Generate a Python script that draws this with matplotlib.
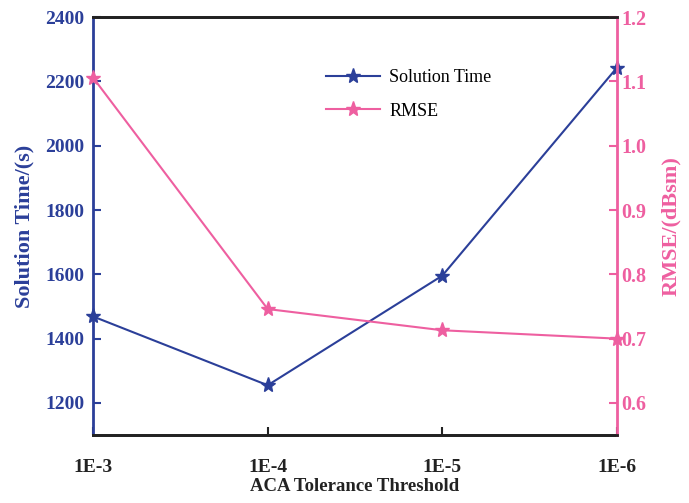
import matplotlib.pyplot as plt

plt.rcParams['font.family'] = ['Liberation Serif', 'DejaVu Serif']

thresholds = ['1E-3', '1E-4', '1E-5', '1E-6']
solution_time = [1469, 1255, 1596, 2243]
rmse = [1.106, 0.746, 0.713, 0.700]

blue = '#2B3F99'
pink = '#EE5FA0'

fig = plt.figure(figsize=(6.89, 5.03), dpi=100)
ax = fig.add_axes([0.135, 0.135, 0.7605, 0.831])
ax2 = ax.twinx()

x = range(len(thresholds))
l1, = ax.plot(x, solution_time, color=blue, marker='*', markersize=11, lw=1.5, label='Solution Time', clip_on=False, zorder=3)
l2, = ax2.plot(x, rmse, color=pink, marker='*', markersize=11, lw=1.5, label='RMSE', clip_on=False, zorder=3)

ax.set_xlim(0, 3)
ax.set_ylim(1100, 2400)
ax2.set_ylim(0.55, 1.2)
ax.set_xticks(list(x))
ax.set_xticklabels(thresholds)
ax.set_yticks(range(1200, 2401, 200))
ax2.set_yticks([0.6, 0.7, 0.8, 0.9, 1.0, 1.1, 1.2])
ax2.set_yticklabels(['0.6', '0.7', '0.8', '0.9', '1.0', '1.1', '1.2'])

for a in (ax, ax2):
    for s in ['top', 'bottom']:
        a.spines[s].set_linewidth(2)
        a.spines[s].set_color('#222222')
ax.spines['left'].set_color(blue)
ax.spines['left'].set_linewidth(2)
ax2.spines['right'].set_color(pink)
ax2.spines['right'].set_linewidth(2)
ax2.spines['left'].set_visible(False)
ax.spines['right'].set_visible(False)

ax.tick_params(axis='x', direction='in', length=6, width=1.5, colors='#222222', pad=17, labelsize=14)
ax.tick_params(axis='y', direction='in', length=6, width=1.5, colors=blue, pad=6, labelsize=14)
ax2.tick_params(axis='y', direction='in', length=6, width=1.5, colors=pink, pad=3, labelsize=14.5)
for lab in ax.get_xticklabels() + ax.get_yticklabels() + ax2.get_yticklabels():
    lab.set_fontweight('bold')

ax.set_xlabel('ACA Tolerance Threshold', fontsize=13.5, fontweight='bold', color='#222222', labelpad=2)
ax.set_ylabel('Solution Time/(s)', fontsize=16, fontweight='bold', color=blue, labelpad=8)
ax2.set_ylabel('RMSE/(dBsm)', fontsize=16, fontweight='bold', color=pink, labelpad=11)

ax.legend(handles=[l1, l2], loc='upper left', bbox_to_anchor=(0.414, 0.914), frameon=False,
          fontsize=13, handlelength=3, handletextpad=0.5, labelspacing=0.9)

fig.savefig('out.png', dpi=100)
